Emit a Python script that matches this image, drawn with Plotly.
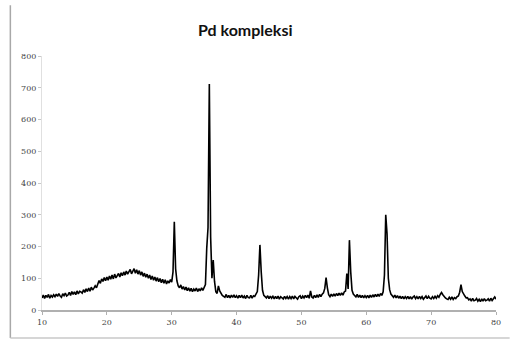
import numpy as np
import plotly.graph_objects as go

title_text = "Pd kompleksi"
two_theta_start = 10.0
two_theta_step = 0.2
intensity = [
    38, 47, 36, 46, 40, 49, 37, 46, 41, 48,
    42, 50, 43, 52, 44, 40, 51, 45, 53, 44,
    47, 56, 46, 58, 49, 57, 48, 60, 51, 59,
    57, 53, 64, 55, 67, 58, 69, 59, 72, 63,
    69, 76, 70, 80, 93, 84, 98, 90, 102, 92,
    104, 94, 107, 97, 110, 98, 113, 101, 111, 115,
    104, 117, 108, 120, 110, 123, 113, 121, 128, 114,
    125, 130, 116, 127, 113, 124, 110, 120, 106, 116,
    103, 113, 100, 110, 96, 107, 94, 104, 91, 102,
    89, 99, 86, 97, 84, 95, 82, 92, 85, 96,
    88, 120, 278, 130, 92, 76, 70, 79, 66, 74,
    63, 72, 61, 70, 59, 68, 58, 66, 60, 69,
    58, 67, 60, 70, 62, 72, 80, 195, 260, 712,
    230, 100, 157, 90, 58, 52, 76, 60, 50, 46,
    43, 40, 49, 39, 46, 38, 47, 40, 48, 39,
    45, 37, 46, 39, 47, 38, 44, 36, 46, 39,
    38, 46, 37, 45, 43, 52, 58, 110, 205, 120,
    62, 46, 42, 38, 45, 36, 44, 37, 43, 35,
    43, 36, 44, 34, 42, 37, 35, 43, 36, 42,
    34, 42, 36, 44, 35, 43, 37, 34, 42, 45,
    36, 44, 38, 46, 39, 47, 37, 60, 41, 38,
    46, 39, 48, 40, 49, 42, 50, 54, 68, 102,
    70, 48, 42, 50, 43, 51, 44, 52, 45, 53,
    46, 54, 47, 57, 60, 115, 66, 220, 120, 62,
    50, 44, 41, 49, 40, 47, 39, 46, 38, 45,
    39, 46, 38, 47, 40, 48, 41, 49, 42, 50,
    43, 52, 46, 57, 110, 300, 240, 100, 64, 50,
    45, 40, 47, 38, 45, 37, 44, 36, 43, 35,
    42, 36, 43, 35, 42, 34, 41, 44, 36, 42,
    35, 43, 36, 42, 34, 41, 44, 36, 43, 37,
    35, 42, 36, 43, 37, 45, 40, 49, 55, 48,
    42, 38, 35, 33, 40, 34, 41, 33, 39, 36,
    42, 44, 56, 80, 58, 48, 44, 38, 39, 32,
    35, 28, 37, 29, 31, 36, 28, 34, 26, 35,
    28, 36, 29, 31, 35, 28, 37, 30, 38, 41,
    34,
]
x_ticks = [10, 20, 30, 40, 50, 60, 70, 80]
y_ticks = [0, 100, 200, 300, 400, 500, 600, 700, 800]

two_theta = two_theta_start + two_theta_step * np.arange(len(intensity))

fig = go.Figure()
fig.add_trace(go.Scatter(
    x=two_theta, y=intensity, mode="lines",
    line=dict(color="black", width=1.6), showlegend=False,
))

fig.update_layout(
    width=511, height=341,
    margin=dict(l=42, r=10, t=56, b=31),
    paper_bgcolor="white", plot_bgcolor="white",
    title=dict(text="<b>" + title_text + "</b>", x=0.48, xanchor="center",
               y=0.91, yanchor="middle",
               font=dict(family="Lato", size=16, color="#111")),
    xaxis=dict(range=[10, 80], tickvals=x_ticks, ticktext=[str(v) for v in x_ticks],
               showgrid=False, zeroline=False, showline=True, linecolor="#b0b0b0",
               linewidth=2, ticks="outside", ticklen=3, tickcolor="#b0b0b0",
               tickfont=dict(family="DejaVu Serif", size=8, color="#444")),
    yaxis=dict(range=[0, 800], tickvals=y_ticks, ticktext=[str(v) for v in y_ticks],
               showgrid=False, zeroline=False, showline=True, linecolor="#e0e0e0",
               linewidth=1, ticks="outside", ticklen=3, tickcolor="#c8c8c8",
               tickfont=dict(family="DejaVu Serif", size=8, color="#444")),
    shapes=[
        dict(type="line", xref="paper", yref="paper", x0=-0.0697, x1=-0.0697,
             y0=-0.110, y1=1.2, line=dict(color="#a8a8a8", width=1.5)),
        dict(type="line", xref="paper", yref="paper", x0=-0.0697, x1=1.03,
             y0=-0.110, y1=-0.110, line=dict(color="#c8c8c8", width=1.5)),
    ],
)

fig.write_html("out.html")
